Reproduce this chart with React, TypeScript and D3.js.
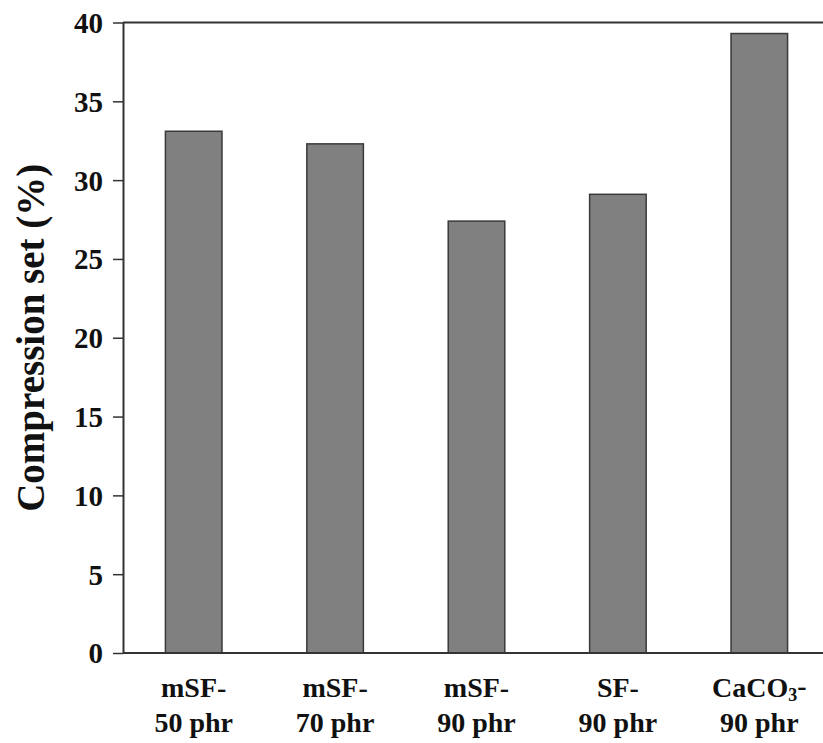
import { useEffect, useRef } from 'react'
import * as d3 from 'd3'

const categories = ['mSF-50', 'mSF-70', 'mSF-90', 'SF-90', 'CaCO3-90']
const lineOne = ['mSF-', 'mSF-', 'mSF-', 'SF-', 'CaCO3-']
const lineTwo = ['50 phr', '70 phr', '90 phr', '90 phr', '90 phr']
const compressionSet = [33.1, 32.3, 27.4, 29.1, 39.3]
const yTicks = [0, 5, 10, 15, 20, 25, 30, 35, 40]

const App = () => {
  const ref = useRef<SVGSVGElement>(null)

  useEffect(() => {
    const svg = d3.select(ref.current)
    svg.selectAll('*').remove()

    const width = 823
    const height = 743
    const margin = { top: 22.5, right: -7, bottom: 90, left: 123 }
    const font = "'Liberation Serif', 'Times New Roman', serif"

    const x = d3
      .scaleBand()
      .domain(categories)
      .range([margin.left, width - margin.right])
      .paddingInner(0.6)
      .paddingOuter(0.3)

    const y = d3
      .scaleLinear()
      .domain([0, 40])
      .range([height - margin.bottom, margin.top])

    const data = categories.map((c, i) => ({ c, v: compressionSet[i] }))

    // bars
    svg
      .append('g')
      .selectAll('rect')
      .data(data)
      .join('rect')
      .attr('x', (d) => x(d.c)!)
      .attr('width', x.bandwidth())
      .attr('y', (d) => y(d.v))
      .attr('height', (d) => y(0) - y(d.v))
      .attr('fill', '#808080')
      .attr('stroke', '#3a3a3a')
      .attr('stroke-width', 1.5)

    // top frame line
    svg
      .append('line')
      .attr('x1', margin.left)
      .attr('x2', width)
      .attr('y1', y(40))
      .attr('y2', y(40))
      .attr('stroke', '#333')
      .attr('stroke-width', 2)

    // y axis
    const yAxis = svg
      .append('g')
      .attr('transform', `translate(${margin.left},0)`)
      .call(d3.axisLeft(y).tickValues(yTicks).tickSize(10).tickSizeOuter(0).tickPadding(10))
    yAxis.select('.domain').attr('stroke', '#333').attr('stroke-width', 2)
    yAxis.selectAll('.tick line').attr('stroke', '#333').attr('stroke-width', 1.5)
    yAxis
      .selectAll('.tick text')
      .attr('font-family', font)
      .attr('font-weight', 'bold')
      .attr('font-size', 29)
      .attr('fill', '#111')
      .attr('dy', '0.34em')

    // x axis line
    svg
      .append('line')
      .attr('x1', margin.left)
      .attr('x2', width)
      .attr('y1', y(0))
      .attr('y2', y(0))
      .attr('stroke', '#333')
      .attr('stroke-width', 2)

    // x labels
    const labels = svg
      .append('g')
      .attr('font-family', font)
      .attr('font-weight', 'bold')
      .attr('font-size', 28)
      .attr('fill', '#111')
      .attr('text-anchor', 'middle')

    categories.forEach((c, i) => {
      const cx = x(c)! + x.bandwidth() / 2
      const t1 = labels.append('text').attr('x', cx).attr('y', 697)
      const m = lineOne[i].match(/^(.*?)(\d)(-)$/)
      if (m) {
        t1.append('tspan').text(m[1])
        t1.append('tspan').attr('font-size', 18).attr('dy', 4).text(m[2])
        t1.append('tspan').attr('dy', -6).text(m[3])
      } else {
        t1.text(lineOne[i])
      }
      labels.append('text').attr('x', cx).attr('y', 732).text(lineTwo[i])
    })

    // y label
    svg
      .append('text')
      .attr('transform', `translate(44,${(y(0) + y(40)) / 2}) rotate(-90)`)
      .attr('text-anchor', 'middle')
      .attr('font-family', font)
      .attr('font-weight', 'bold')
      .attr('font-size', 39)
      .attr('fill', '#111')
      .text('Compression set (%)')
  }, [])

  return (
    <svg
      ref={ref}
      width={823}
      height={743}
      style={{ position: 'absolute', left: 0, top: 0, background: '#fff' }}
    />
  )
}

export default App
